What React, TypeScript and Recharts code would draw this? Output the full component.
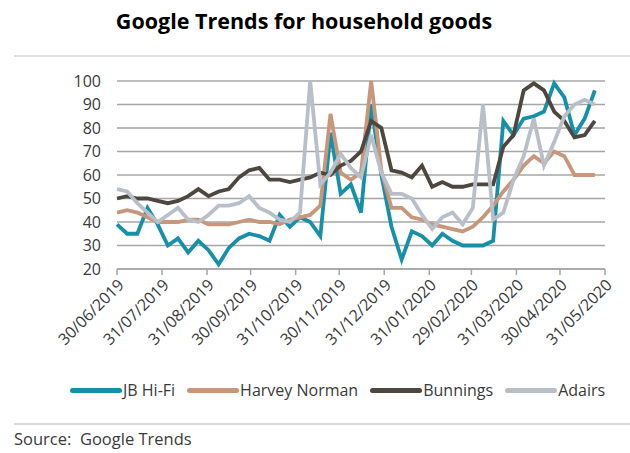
import React from "react";
import { LineChart, Line, XAxis, YAxis, CartesianGrid } from "recharts";

const dates = [
  "2019-06-30", "2019-07-07", "2019-07-14", "2019-07-21", "2019-07-28",
  "2019-08-04", "2019-08-11", "2019-08-18", "2019-08-25", "2019-09-01",
  "2019-09-08", "2019-09-15", "2019-09-22", "2019-09-29", "2019-10-06",
  "2019-10-13", "2019-10-20", "2019-10-27", "2019-11-03", "2019-11-10",
  "2019-11-17", "2019-11-24", "2019-12-01", "2019-12-08", "2019-12-15",
  "2019-12-22", "2019-12-29", "2020-01-05", "2020-01-12", "2020-01-19",
  "2020-01-26", "2020-02-02", "2020-02-09", "2020-02-16", "2020-02-23",
  "2020-03-01", "2020-03-08", "2020-03-15", "2020-03-22", "2020-03-29",
  "2020-04-05", "2020-04-12", "2020-04-19", "2020-04-26", "2020-05-03",
  "2020-05-10", "2020-05-17", "2020-05-24",
];

const jbHiFi = [39, 35, 35, 46, 39, 30, 33, 27, 32, 28, 22, 29, 33, 35, 34, 32, 43, 38, 42, 40, 34, 78, 52, 56, 44, 90, 60, 38, 24, 36, 34, 30, 35, 32, 30, 30, 30, 32, 83, 77, 84, 85, 87, 99, 93, 77, 84, 96];
const harveyNorman = [44, 45, 44, 42, 40, 40, 40, 41, 41, 39, 39, 39, 40, 41, 40, 40, 39, 41, 42, 43, 47, 86, 61, 58, 61, 100, 62, 46, 46, 42, 41, 39, 38, 37, 36, 38, 42, 47, 53, 58, 64, 68, 65, 70, 68, 60, 60, 60];
const bunnings = [50, 51, 50, 50, 49, 48, 49, 51, 54, 51, 53, 54, 59, 62, 63, 58, 58, 57, 58, 59, 61, 60, 64, 66, 70, 83, 80, 62, 61, 59, 64, 55, 57, 55, 55, 56, 56, 56, 72, 77, 96, 99, 96, 87, 83, 76, 77, 83];
const adairs = [54, 53, 48, 44, 40, 43, 46, 41, 40, 43, 47, 47, 48, 51, 46, 44, 41, 40, 44, 100, 56, 61, 69, 63, 59, 77, 61, 52, 52, 50, 43, 37, 42, 44, 39, 46, 90, 41, 44, 58, 68, 84, 64, 74, 85, 90, 92, 90];

const xTickDates = [
  "2019-06-30", "2019-07-31", "2019-08-31", "2019-09-30", "2019-10-31",
  "2019-11-30", "2019-12-31", "2020-01-31", "2020-02-29", "2020-03-31",
  "2020-04-30", "2020-05-31",
];
const yTicks = [20, 30, 40, 50, 60, 70, 80, 90, 100];

const series = [
  { key: "jb", name: "JB Hi-Fi", color: "#1690a8", values: jbHiFi },
  { key: "hn", name: "Harvey Norman", color: "#c8967a", values: harveyNorman },
  { key: "bu", name: "Bunnings", color: "#4e4740", values: bunnings },
  { key: "ad", name: "Adairs", color: "#b9bfc9", values: adairs },
];

const data = dates.map((d, i) => {
  const row: any = { t: Date.parse(d) };
  series.forEach((s) => (row[s.key] = s.values[i]));
  return row;
});

const xTicks = xTickDates.map((d) => Date.parse(d));

const fmt = (t: number) => {
  const d = new Date(t);
  const dd = String(d.getUTCDate()).padStart(2, "0");
  const mm = String(d.getUTCMonth() + 1).padStart(2, "0");
  return `${dd}/${mm}/${d.getUTCFullYear()}`;
};

const FONT = "'Open Sans', 'Noto Sans', sans-serif";
const TXT = "#3a3a3a";

const XTick = (props: any) => {
  const { x, y, payload } = props;
  const ax = x + 4;
  const ay = y + 5;
  return (
    <text
      x={ax}
      y={ay}
      transform={`rotate(-45 ${ax} ${ay})`}
      textAnchor="end"
      dy="0.35em"
      fill={TXT}
      fontSize={16}
      fontFamily={FONT}
    >
      {fmt(payload.value)}
    </text>
  );
};

export default function App() {
  return (
    <div
      style={{
        position: "absolute",
        left: 0,
        top: 0,
        width: 630,
        height: 453,
        background: "#fff",
        fontFamily: FONT,
        overflow: "hidden",
      }}
    >
      <div
        style={{
          position: "absolute",
          left: 0,
          width: 608,
          top: 7,
          textAlign: "center",
          fontWeight: 700,
          fontSize: 21.5,
          color: "#000",
          lineHeight: "28px",
        }}
      >
        Google Trends for household goods
      </div>
      <div
        style={{
          position: "absolute",
          left: 14,
          right: 0,
          top: 55,
          height: 2,
          background: "#e0e0e0",
        }}
      />
      <div style={{ position: "absolute", left: 0, top: 0 }}>
        <LineChart
          width={630}
          height={453}
          data={data}
          margin={{ top: 81, right: 25, bottom: 0, left: 0 }}
        >
          <CartesianGrid
            horizontal={true}
            vertical={false}
            stroke="#a6a6a6"
            strokeWidth={1.5}
          />
          <XAxis
            dataKey="t"
            type="number"
            domain={[xTicks[0], xTicks[xTicks.length - 1]]}
            ticks={xTicks}
            interval={0}
            height={184}
            tick={<XTick />}
            tickSize={6}
            tickMargin={2}
            axisLine={{ stroke: "#a6a6a6", strokeWidth: 1.5 }}
            tickLine={{ stroke: "#a6a6a6", strokeWidth: 1.5 }}
          />
          <YAxis
            domain={[20, 100]}
            ticks={yTicks}
            interval={0}
            width={117}
            axisLine={false}
            tickLine={false}
            tickSize={0}
            tickMargin={16}
            tick={{ fill: TXT, fontSize: 16, fontFamily: FONT }}
          />
          {series.map((s) => (
            <Line
              key={s.key}
              dataKey={s.key}
              name={s.name}
              stroke={s.color}
              strokeWidth={3.8}
              dot={false}
              activeDot={false}
              type="linear"
              isAnimationActive={false}
            />
          ))}
        </LineChart>
      </div>
      <div
        style={{
          position: "absolute",
          left: 70,
          top: 379,
          display: "flex",
          alignItems: "center",
          gap: 12,
          fontSize: 16,
          color: TXT,
          lineHeight: "22px",
        }}
      >
        {series.map((s) => (
          <div key={s.key} style={{ display: "flex", alignItems: "center" }}>
            <div
              style={{
                width: 52,
                height: 5,
                borderRadius: 3,
                background: s.color,
                marginRight: 1,
              }}
            />
            <span>{s.name}</span>
          </div>
        ))}
      </div>
      <div
        style={{
          position: "absolute",
          left: 14,
          right: 0,
          top: 423,
          height: 2,
          background: "#d9d9d9",
        }}
      />
      <div
        style={{
          position: "absolute",
          left: 14,
          top: 428,
          fontSize: 16.5,
          color: TXT,
          lineHeight: "21px",
          whiteSpace: "pre",
        }}
      >
        {"Source:  Google Trends"}
      </div>
    </div>
  );
}
